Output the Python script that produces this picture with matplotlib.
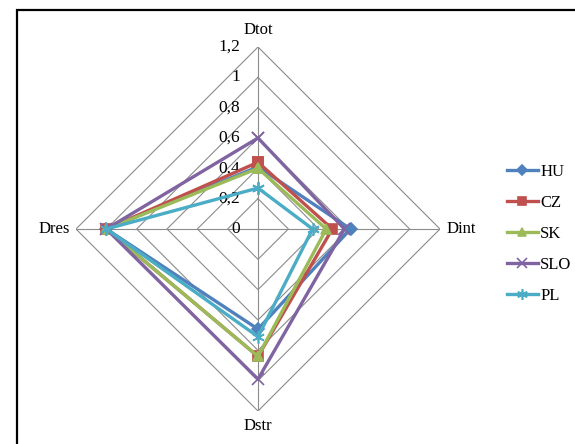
import numpy as np
import matplotlib
matplotlib.use("Agg")
import matplotlib.pyplot as plt
from matplotlib.patches import Rectangle

# ===============================
# Datos
# ===============================
ejes = ["Dtot", "Dint", "Dstr", "Dres"]
paises = ["HU", "CZ", "SK", "SLO", "PL"]
hu = [0.41, 0.61, 0.66, 1.00]
cz = [0.44, 0.49, 0.84, 1.00]
sk = [0.40, 0.45, 0.84, 1.00]
slo = [0.60, 0.57, 0.99, 1.00]
pl = [0.27, 0.36, 0.71, 1.00]
niveles = [0, 0.2, 0.4, 0.6, 0.8, 1.0, 1.2]
etiquetas_niveles = ["0", "0,2", "0,4", "0,6", "0,8", "1", "1,2"]

colores = ["#4F81BD", "#C0504D", "#9BBB59", "#8064A2", "#4BACC6"]
marcadores = ["D", "s", "^", "x", (6, 2, 0)]
tamanos = [6, 7, 7, 8, 9]

plt.rcParams["font.family"] = ["Liberation Serif", "DejaVu Serif"]

fig = plt.figure(figsize=(5.75, 4.44), dpi=100)

# marco del grafico (recortado a la derecha y abajo)
fig.patches.append(Rectangle((17 / 575, -0.05), 1.0, (444 - 10) / 444 + 0.05,
                             transform=fig.transFigure, fill=False,
                             edgecolor="black", linewidth=1.6, zorder=0))

cx, cy, rad = 258, 229, 182
ax = fig.add_axes([(cx - rad) / 575, (444 - cy - rad) / 444,
                   2 * rad / 575, 2 * rad / 444], projection="polar")
ax.set_theta_zero_location("N")
ax.set_theta_direction(-1)
ax.set_ylim(0, 1.2)
ax.grid(False)
ax.spines["polar"].set_visible(False)
ax.set_xticks([])
ax.set_yticks([])
ax.patch.set_alpha(0)

angulos = np.linspace(0, 2 * np.pi, len(ejes), endpoint=False)
ang_cerrado = np.append(angulos, angulos[0])

# anillos en forma de rombo
for nv in niveles[1:]:
    ax.plot(ang_cerrado, [nv] * len(ang_cerrado), color="#8c8c8c",
            linewidth=0.8, zorder=1)
# radios
for a in angulos:
    ax.plot([a, a], [0, 1.2], color="#8c8c8c", linewidth=0.8, zorder=1)

# etiquetas de niveles
for nv, et in zip(niveles, etiquetas_niveles):
    ax.annotate(et, xy=(0, nv), xytext=(-13, 0), textcoords="offset points",
                ha="right", va="center", fontsize=12.5)

# etiquetas de ejes
ax.text(angulos[0], 1.31, ejes[0], ha="center", va="center", fontsize=12)
ax.text(angulos[1], 1.24, ejes[1], ha="left", va="center", fontsize=12)
ax.text(angulos[2], 1.30, ejes[2], ha="center", va="center", fontsize=12)
ax.text(angulos[3], 1.24, ejes[3], ha="right", va="center", fontsize=12)

series = [hu, cz, sk, slo, pl]
for nombre, vals, col, mk, ms in zip(paises, series, colores, marcadores, tamanos):
    v = vals + [vals[0]]
    ax.plot(ang_cerrado, v, color=col, linewidth=2.4, marker=mk,
            markersize=ms, markeredgecolor=col, markeredgewidth=1.2,
            label=nombre, zorder=3, clip_on=False)

fig.legend(loc="center left", bbox_to_anchor=(507 / 575, 0.474),
           frameon=False, fontsize=12, handlelength=1.85, handletextpad=0.15,
           labelspacing=0.9, borderpad=0, borderaxespad=0, markerscale=0.85)

fig.savefig("out.png", dpi=100)
